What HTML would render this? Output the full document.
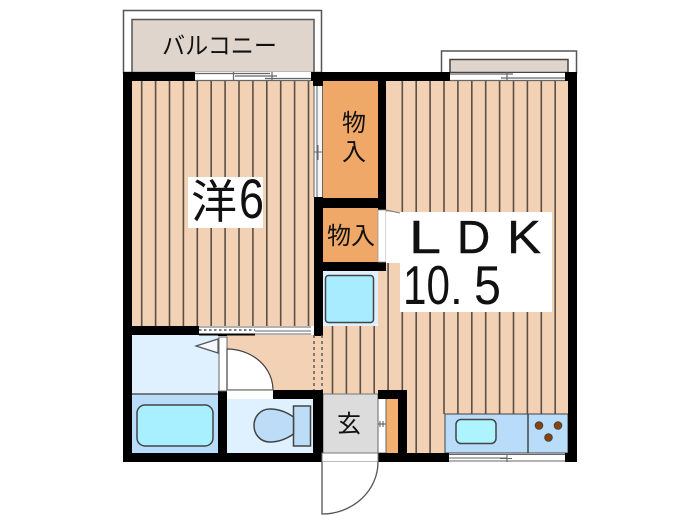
<!DOCTYPE html>
<html><head><meta charset="utf-8"><style>
html,body{margin:0;padding:0;background:#fff}
svg{display:block;filter:blur(0.35px)}
text{font-family:"Liberation Sans","Noto Sans CJK JP",sans-serif;fill:#111}
</style></head><body>
<svg width="700" height="525" viewBox="0 0 700 525" xmlns="http://www.w3.org/2000/svg">
<!-- balconies -->
<rect x="123.5" y="10.5" width="198" height="62" fill="#fff" stroke="#555" stroke-width="1.5"/>
<rect x="132" y="19.5" width="182" height="53" fill="#e0d5cc" stroke="#555" stroke-width="1.5"/>
<rect x="441.5" y="51" width="135" height="22" fill="#fff" stroke="#555" stroke-width="1.5"/>
<rect x="450" y="59.5" width="118" height="13" fill="#e0d5cc" stroke="#444" stroke-width="1.5"/>
<text x="162" y="54" font-size="24" textLength="115" lengthAdjust="spacingAndGlyphs">バルコニー</text>
<!-- floors -->
<rect x="132" y="81" width="182" height="245" fill="#f2d1b4"/>
<rect x="386" y="81" width="182" height="372" fill="#f2d1b4"/>
<rect x="322" y="326" width="64" height="127" fill="#f2d1b4"/>
<rect x="378" y="263" width="10" height="63" fill="#f2d1b4"/>
<rect x="227" y="335" width="96" height="56" fill="#f2d1b4"/>
<g stroke="#5a5048" stroke-width="1.6">
<path d="M141.7 81V326M155.6 81V326M169.5 81V326M183.4 81V326M197.3 81V326M211.2 81V326M225.1 81V326M239 81V326M252.9 81V326M266.8 81V326M280.7 81V326M294.6 81V326M308.5 81V326"/>
<path d="M402.3 81V453M416.2 81V453M430.1 81V453M444 81V414M457.9 81V414M471.8 81V414M485.7 81V414M499.6 81V414M513.5 81V414M527.4 81V414M541.3 81V414M555.2 81V414"/>
<path d="M332.5 326V395M346.4 326V395M360.3 326V395M374.2 326V395M388.1 263V390"/>
</g>
<!-- closets -->
<rect x="322" y="81" width="56" height="118" fill="#f0a868"/>
<rect x="322" y="207" width="56" height="56" fill="#f0a868"/>
<!-- fridge -->
<rect x="323" y="270" width="55" height="56" rx="3" fill="#dff0ff"/>
<rect x="325.5" y="275.5" width="48" height="47" rx="3" fill="#a8edff" stroke="#444" stroke-width="1.5"/>
<!-- bath -->
<rect x="132" y="335" width="87" height="59" fill="#dff0ff"/>
<rect x="132" y="394" width="87" height="59" fill="#b9dcfa"/>
<path d="M132 394H219" stroke="#555" stroke-width="1.5"/>
<rect x="137" y="405" width="76" height="41" rx="8" fill="#a8f0ff" stroke="#444" stroke-width="1.5"/>
<path d="M196 346L218 339V353Z" fill="#f4f8fc" stroke="#555" stroke-width="1.2"/>
<!-- wc -->
<rect x="227" y="398" width="87" height="56" fill="#dff0ff"/>
<rect x="293.5" y="406" width="17" height="40" fill="#bcdcf8" stroke="#444" stroke-width="1.5"/>
<path d="M293.5 417C285 411 277 409 270 409C260 409 254 417 254 425.5C254 434 260 442 270 442C277 442 285 440 293.5 434Z" fill="#bcdcf8" stroke="#444" stroke-width="1.5"/>
<!-- genkan -->
<rect x="323" y="394" width="55" height="60" fill="#dcdcdc" stroke="#777" stroke-width="1"/>
<rect x="386" y="399" width="13" height="54" fill="#f4b070"/>
<rect x="378" y="394" width="8" height="59" fill="#fff" stroke="#666" stroke-width="1"/>
<path d="M378 424H386M380 421V427M383 421V427" stroke="#555" stroke-width="1"/>
<!-- kitchen -->
<rect x="445" y="414" width="123" height="39" fill="#b9dcfa" stroke="#444" stroke-width="1"/>
<path d="M528 414V453" stroke="#444" stroke-width="1.5"/>
<rect x="456" y="419.5" width="40" height="24" rx="5" fill="#aef4ff" stroke="#444" stroke-width="1.5"/>
<g fill="#8a4208" stroke="#444" stroke-width="1"><circle cx="539" cy="425.5" r="3.8"/><circle cx="558" cy="425.5" r="3.8"/><circle cx="548.5" cy="437.5" r="3.8"/></g>
<!-- walls -->
<g fill="#000">
<rect x="123" y="72" width="72" height="9"/>
<rect x="311" y="72" width="139" height="9"/>
<rect x="565" y="72" width="12" height="9"/>
<rect x="123" y="72" width="9" height="390"/>
<rect x="568" y="72" width="9" height="390"/>
<rect x="313" y="72" width="10" height="14"/>
<rect x="314" y="197" width="9" height="139"/>
<rect x="378" y="72" width="8" height="138"/>
<rect x="322" y="198" width="64" height="10"/>
<rect x="322" y="262" width="64" height="9"/>
<rect x="123" y="326" width="76" height="9"/>
<rect x="218" y="326" width="9" height="10"/>
<rect x="218" y="391" width="9" height="71"/>
<rect x="273" y="390" width="50" height="9"/>
<rect x="313" y="390" width="10" height="72"/>
<rect x="123" y="453" width="200" height="9"/>
<rect x="378" y="453" width="71" height="9"/>
<rect x="565" y="453" width="12" height="9"/>
<rect x="378" y="390" width="29" height="9"/>
<rect x="398" y="390" width="9" height="64"/>
</g>
<!-- windows / doors -->
<rect x="195" y="72" width="116" height="9" fill="#fff"/>
<path d="M195 73.5H270M235 76H277M265 78.5H311M195 80.5H311M233.5 72V81M272 72V81" stroke="#666" stroke-width="1.2" fill="none"/>
<rect x="450" y="73" width="115" height="8" fill="#fff"/>
<path d="M450 74H513M501 78H565M450 80.5H565M507 72V81" stroke="#666" stroke-width="1.2" fill="none"/>
<rect x="449" y="454" width="116" height="8" fill="#fff"/>
<path d="M449 454.5H565M449 461H565M500 458.5H512M449 458H507M507 454V462" stroke="#666" stroke-width="1.1" fill="none"/>
<rect x="314" y="86" width="9" height="111" fill="#f4f6fa"/>
<path d="M314 86V197M317 86V197M322.5 86V197M314 152H322M318 145V160" stroke="#666" stroke-width="1" fill="none"/>
<rect x="199" y="326" width="112" height="9" fill="#fff"/>
<path d="M199 327H311M199 334H311M255 331H311" stroke="#666" stroke-width="1" fill="none"/>
<path d="M199 330H255" stroke="#555" stroke-width="1.5" stroke-dasharray="2.5 2.5"/>
<path d="M199 334.5H255" stroke="#000" stroke-width="2"/>
<rect x="219" y="337" width="8" height="54" fill="#fff" stroke="#666" stroke-width="1"/>
<path d="M227 349A46 41 0 0 1 273 390H227Z" fill="#fff" stroke="#444" stroke-width="1.2"/>
<rect x="227" y="390" width="46" height="9" fill="#fff"/>
<path d="M227 390H273" stroke="#777" stroke-width="1.2"/>
<path d="M314 335V390M322 335V390" stroke="#555" stroke-width="1.4" stroke-dasharray="3 3" fill="none"/>
<rect x="322" y="453" width="56" height="9" fill="#fff" stroke="#777" stroke-width="1"/>
<path d="M322 462V514A56 52 0 0 0 378 462" fill="#fff" stroke="#555" stroke-width="1.3"/>
<rect x="378" y="210" width="8" height="52" fill="#fff" stroke="#999" stroke-width="0.8"/>
<!-- label backgrounds -->
<rect x="188" y="177" width="75" height="51" fill="#fff"/>
<path d="M386 212H552V312H400V263H386Z" fill="#fff"/>
<path d="M386 210L400 213" stroke="#777" stroke-width="1"/>
<!-- labels -->
<text x="191" y="218" font-size="46">洋</text>
<text x="239" y="218" font-size="56" textLength="25" lengthAdjust="spacingAndGlyphs">6</text>
<text x="342" y="131" font-size="24">物</text>
<text x="342" y="160" font-size="24">入</text>
<text x="327" y="244" font-size="24" textLength="48">物入</text>
<text x="349" y="432" font-size="24" text-anchor="middle">玄</text>
<text x="409" y="253" font-size="46" textLength="32" lengthAdjust="spacingAndGlyphs" stroke="#111" stroke-width="0.4">L</text>
<text x="457" y="253" font-size="46" stroke="#111" stroke-width="0.4">D</text>
<text x="507" y="253" font-size="46" textLength="34" lengthAdjust="spacingAndGlyphs" stroke="#111" stroke-width="0.4">K</text>
<text x="403" y="304" font-size="55" textLength="47" lengthAdjust="spacingAndGlyphs">10</text>
<text x="450" y="304" font-size="46">.</text>
<text x="474" y="304" font-size="55" textLength="27" lengthAdjust="spacingAndGlyphs">5</text>
</svg>
</body></html>
